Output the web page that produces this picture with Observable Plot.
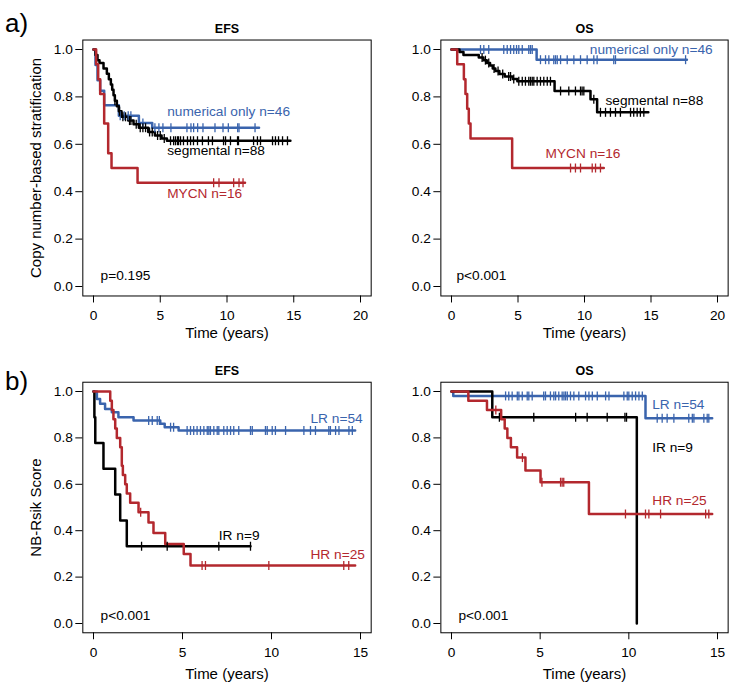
<!DOCTYPE html>
<html><head><meta charset="utf-8">
<script src="https://cdn.jsdelivr.net/npm/d3@7"></script>
<script src="https://cdn.jsdelivr.net/npm/@observablehq/plot@0.6"></script>
<style>
body{margin:0;background:#fff;font-family:"Liberation Sans",Arial,Helvetica,sans-serif;}
#wrap{position:relative;width:733px;height:684px;overflow:hidden;}
.panel{position:absolute;}
.letter{position:absolute;font-size:26px;line-height:1;color:#000;}
</style></head><body><div id="wrap"></div>
<script>
// ---------- DATA ----------
const BLUE = "#3a64ad", RED = "#b3282e", BLACK = "#000000";
const yTicks = [0, 0.2, 0.4, 0.6, 0.8, 1.0];
const xTicksA = [0, 5, 10, 15, 20];
const xTicksB = [0, 5, 10, 15];

// a) EFS
const aEfsNumEvents = [[0.15,0.935],[0.3,0.87],[0.5,0.826],[0.8,0.765],[1.9,0.72],[3.4,0.69],[4.4,0.67]];
const aEfsNumEnd = 12.4;
const aEfsNumCens = [2.0,2.3,2.6,2.8,3.7,4.6,4.9,5.2,5.8,7.0,7.3,7.5,7.8,8.2,9.1,9.7,10.1,10.8,10.9,12.1];
const aEfsSegEvents = [[0.15,0.977],[0.3,0.955],[0.45,0.943],[0.75,0.92],[1.0,0.898],[1.15,0.875],[1.3,0.852],[1.4,0.83],[1.5,0.807],[1.6,0.784],[1.75,0.761],[1.9,0.739],[2.1,0.716],[2.6,0.70],[3.0,0.685],[3.4,0.67],[4.1,0.652],[4.6,0.637],[5.1,0.624],[5.5,0.615]];
const aEfsSegEnd = 14.75;
const aEfsSegCens = [1.6,1.95,2.2,2.4,2.7,2.8,3.2,3.5,3.7,3.9,4.2,4.4,4.8,5.0,5.3,5.77,6.0,6.14,6.29,6.37,6.52,6.74,7.04,7.27,7.49,7.79,8.16,8.61,8.91,9.74,9.89,10.26,10.79,10.86,11.99,12.28,12.51,13.41,13.63,13.86,14.16,14.53];
const aEfsMycnEvents = [[0.2,0.9375],[0.35,0.875],[0.5,0.8125],[0.8,0.6875],[1.1,0.5625],[1.35,0.5],[3.3,0.4375]];
const aEfsMycnEnd = 11.35;
const aEfsMycnCens = [9.0,9.4,10.5,10.9,11.2];

// a) OS
const aOsNumEvents = [[6.4,0.957]];
const aOsNumEnd = 17.7;
const aOsNumCens = [2.18,2.43,2.8,3.93,4.19,4.44,4.68,4.89,5.06,5.32,5.81,5.94,6.07,6.69,7.07,7.32,7.69,7.82,7.95,8.2,8.7,9.2,9.7,10.2,10.7,10.95,12.2,12.33,17.6];
const aOsSegEvents = [[0.6,0.989],[0.9,0.977],[2.05,0.966],[2.4,0.955],[2.65,0.943],[2.9,0.932],[3.1,0.92],[3.3,0.909],[3.6,0.897],[4.0,0.886],[4.6,0.876],[4.95,0.866],[7.75,0.825],[10.45,0.79],[10.95,0.735]];
const aOsSegEnd = 14.8;
const aOsSegCens = [2.3,2.55,2.8,3.2,3.5,3.85,4.3,4.44,4.68,5.06,5.32,5.56,5.81,5.94,6.07,6.19,6.44,6.69,6.94,7.2,7.44,8.2,8.82,9.32,9.7,9.82,9.95,10.7,11.2,11.58,11.95,12.33,12.7,13.46,13.7,13.96,14.2,14.46];
const aOsMycnEvents = [[0.43,0.9375],[0.93,0.875],[1.05,0.8125],[1.18,0.75],[1.3,0.6875],[1.43,0.625],[4.56,0.5]];
const aOsMycnEnd = 11.45;
const aOsMycnCens = [8.95,9.32,9.7,10.58,10.83,11.2];

// b) EFS
const bEfsLrEvents = [[0.19,0.968],[0.37,0.947],[0.65,0.925],[1.03,0.911],[1.4,0.889],[2.25,0.875],[3.75,0.861],[4.0,0.846],[4.78,0.832]];
const bEfsLrEnd = 14.7;
const bEfsLrCens = [3.1,3.3,3.58,3.7,4.33,4.5,5.26,5.45,5.63,5.82,6.01,6.2,6.39,6.48,6.57,6.76,6.95,7.04,7.32,7.51,7.7,7.88,8.16,8.82,8.92,9.66,9.76,10.04,10.22,10.79,11.82,12.19,12.47,13.22,13.31,13.6,13.79,14.35,14.54];
const bEfsIrEvents = [[0.05,0.889],[0.1,0.778],[0.56,0.667],[1.22,0.556],[1.5,0.444],[1.87,0.333]];
const bEfsIrEnd = 8.82;
const bEfsIrCens = [2.7,4.14,7.04,8.82];
const bEfsHrEvents = [[0.94,0.96],[1.03,0.92],[1.12,0.88],[1.22,0.84],[1.31,0.80],[1.5,0.76],[1.59,0.68],[1.65,0.64],[1.78,0.60],[1.87,0.56],[2.06,0.52],[2.53,0.48],[3.09,0.435],[3.37,0.39],[4.03,0.343],[5.07,0.30],[5.45,0.25]];
const bEfsHrEnd = 14.7;
const bEfsHrCens = [2.65,6.1,6.29,9.85,14.06,14.34];

// b) OS
const bOsLrEvents = [[0.1,0.981],[10.94,0.885]];
const bOsLrEnd = 14.7;
const bOsLrCens = [3.05,3.23,3.42,3.71,3.8,3.99,4.27,4.36,4.55,5.2,5.3,5.58,5.77,5.87,6.05,6.24,6.34,6.43,6.53,6.71,6.9,7.18,7.56,7.75,7.94,8.22,8.69,8.88,9.72,9.91,10.0,10.19,10.38,10.57,10.76,11.6,11.88,12.16,12.54,13.38,13.58,13.67,14.23,14.42,14.51];
const bOsIrEvents = [[2.3,0.889],[10.45,0]];
const bOsIrEnd = 10.45;
const bOsIrCens = [2.7,4.64,7.0,7.65,8.78,9.78,9.87];
const bOsHrEvents = [[0.95,0.96],[2.0,0.92],[2.8,0.88],[3.0,0.84],[3.15,0.80],[3.35,0.76],[3.7,0.715],[4.17,0.66],[5.02,0.609],[7.75,0.472]];
const bOsHrEnd = 14.7;
const bOsHrCens = [2.5,4.0,5.1,6.15,6.24,6.33,9.81,10.94,11.13,11.79,14.33,14.51];

// labels (text, t, s)
const aEfsLabels = [["numerical only n=46",5.52,0.738,BLUE],["segmental n=88",5.52,0.574,BLACK],["MYCN n=16",5.52,0.394,RED]];
const aOsLabels = [["numerical only n=46",10.4,1.0,BLUE],["segmental n=88",11.58,0.785,BLACK],["MYCN n=16",7.07,0.56,RED]];
const bEfsLabels = [["LR n=54",12.19,0.882,BLUE],["IR n=9",7.04,0.379,BLACK],["HR n=25",12.19,0.296,RED]];
const bOsLabels = [["LR n=54",11.32,0.943,BLUE],["IR n=9",11.32,0.76,BLACK],["HR n=25",11.32,0.53,RED]];

// ---------- HELPERS ----------
function kmPoints(events, end) {
  const pts = [{t: 0, s: 1}];
  for (const [t, s] of events) pts.push({t, s});
  const last = pts[pts.length - 1].s;
  if (end > pts[pts.length - 1].t) pts.push({t: end, s: last});
  return pts;
}
function survAt(events, t) {
  let s = 1;
  for (const [et, es] of events) if (et <= t) s = es;
  return s;
}
const vbar = {draw(ctx, size) { const r = Math.sqrt(size / Math.PI); ctx.moveTo(0, -r); ctx.lineTo(0, r); }};
const FONT = "'Liberation Sans', Arial, Helvetica, sans-serif";

function panel(o) {
  const marks = [
    Plot.frame({stroke: "black", strokeWidth: 1}),
    Plot.axisX(o.xTicks, {tickSize: 7, tickPadding: 7, label: null, fontSize: 13.7}),
    Plot.axisY(yTicks, {tickSize: 7, tickPadding: 3, label: null, tickFormat: d => d.toFixed(1), fontSize: 13.7}),
    Plot.text([o.title], {frameAnchor: "top", lineAnchor: "middle", dy: o.titleDy, fontWeight: "bold", fontSize: 12.5}),
    Plot.text(["Time (years)"], {frameAnchor: "bottom", lineAnchor: "middle", dy: o.xtDy, fontSize: 15}),
    Plot.text([o.p], {frameAnchor: "bottom-left", lineAnchor: "middle", dx: o.pdx, dy: o.pdy, textAnchor: "start", fontSize: 13.7})
  ];
  if (o.ytitle) marks.push(Plot.text([o.ytitle], {frameAnchor: "left", rotate: -90, dx: -47, textAnchor: "middle", lineAnchor: "middle", fontSize: 15}));
  for (const sr of o.series) {
    marks.push(Plot.line(kmPoints(sr.events, sr.end), {x: "t", y: "s", curve: "step-after", stroke: sr.color, strokeWidth: 2.5}));
  }
  for (const sr of o.series) {
    const cd = sr.cens.map(t => ({t, s: survAt(sr.events, t)}));
    marks.push(Plot.dot(cd, {x: "t", y: "s", r: 4.5, symbol: vbar, stroke: sr.color, strokeWidth: 1.3, fill: "none"}));
  }
  marks.push(Plot.text(o.labels, {x: d => d[1], y: d => d[2], text: d => d[0], fill: d => d[3], textAnchor: "start", lineAnchor: "middle", fontSize: 13.7}));
  const svg = Plot.plot({
    width: o.width, height: o.height,
    marginLeft: o.ml, marginRight: o.mr, marginTop: o.mt, marginBottom: o.mb,
    style: {background: "none", overflow: "visible", fontFamily: FONT, fontSize: "13.7px", color: "black"},
    x: {domain: o.xDomain, axis: null},
    y: {domain: [-0.04, 1.04], axis: null},
    color: {type: "identity"},
    marks
  });
  const div = document.createElement("div");
  div.className = "panel";
  div.style.left = o.left + "px";
  div.style.top = o.top + "px";
  div.appendChild(svg);
  document.getElementById("wrap").appendChild(div);
}

const common = {height: 342};
panel({...common, left: 0, top: 0, width: 376, ml: 82.32, mr: 5.32, mt: 39.52, mb: 46.52,
  xDomain: [-0.8, 20.8], xTicks: xTicksA, title: "EFS", titleDy: -11.5, xtDy: 37,
  p: "p=0.195", pdx: 17.7, pdy: -20.5, ytitle: "Copy number-based stratification",
  series: [
    {events: aEfsNumEvents, end: aEfsNumEnd, cens: aEfsNumCens, color: BLUE},
    {events: aEfsSegEvents, end: aEfsSegEnd, cens: aEfsSegCens, color: BLACK},
    {events: aEfsMycnEvents, end: aEfsMycnEnd, cens: aEfsMycnCens, color: RED}],
  labels: aEfsLabels});
panel({...common, left: 376, top: 0, width: 357, ml: 64.36, mr: 5.36, mt: 39.52, mb: 46.52,
  xDomain: [-0.8, 20.8], xTicks: xTicksA, title: "OS", titleDy: -11.5, xtDy: 37,
  p: "p<0.001", pdx: 15.6, pdy: -20.5,
  series: [
    {events: aOsNumEvents, end: aOsNumEnd, cens: aOsNumCens, color: BLUE},
    {events: aOsSegEvents, end: aOsSegEnd, cens: aOsSegCens, color: BLACK},
    {events: aOsMycnEvents, end: aOsMycnEnd, cens: aOsMycnCens, color: RED}],
  labels: aOsLabels});
panel({...common, left: 0, top: 342, width: 376, ml: 82.32, mr: 5.32, mt: 39.72, mb: 51.72,
  xDomain: [-0.6, 15.6], xTicks: xTicksB, title: "EFS", titleDy: -11.7, xtDy: 41,
  p: "p<0.001", pdx: 17.7, pdy: -17.3, ytitle: "NB-Rsik Score",
  series: [
    {events: bEfsLrEvents, end: bEfsLrEnd, cens: bEfsLrCens, color: BLUE},
    {events: bEfsIrEvents, end: bEfsIrEnd, cens: bEfsIrCens, color: BLACK},
    {events: bEfsHrEvents, end: bEfsHrEnd, cens: bEfsHrCens, color: RED}],
  labels: bEfsLabels});
panel({...common, left: 376, top: 342, width: 357, ml: 64.36, mr: 5.36, mt: 39.72, mb: 51.72,
  xDomain: [-0.6, 15.6], xTicks: xTicksB, title: "OS", titleDy: -11.7, xtDy: 41,
  p: "p<0.001", pdx: 17.6, pdy: -17.3,
  series: [
    {events: bOsLrEvents, end: bOsLrEnd, cens: bOsLrCens, color: BLUE},
    {events: bOsIrEvents, end: bOsIrEnd, cens: bOsIrCens, color: BLACK},
    {events: bOsHrEvents, end: bOsHrEnd, cens: bOsHrCens, color: RED}],
  labels: bOsLabels});

const wrap = document.getElementById("wrap");
for (const [txt, top] of [["a)", 10], ["b)", 368]]) {
  const d = document.createElement("div");
  d.className = "letter"; d.textContent = txt;
  d.style.left = "5px"; d.style.top = top + "px";
  wrap.appendChild(d);
}
</script></body></html>
